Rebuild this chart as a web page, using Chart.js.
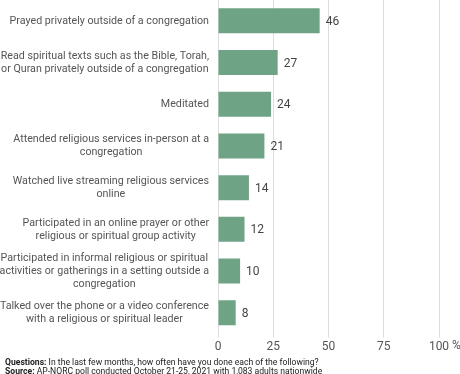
<!DOCTYPE html>
<html>
<head>
<meta charset="utf-8">
<script src="https://cdn.jsdelivr.net/npm/chart.js@4"></script>
<style>
  html, body { margin: 0; padding: 0; background: #fff; }
  #wrap { position: relative; width: 460px; height: 374px; overflow: hidden; }
  #footer { position: absolute; left: 5px; top: 358px; font-family: Roboto, "Liberation Sans", sans-serif; font-size: 8.6px; line-height: 8.8px; color: #222; white-space: nowrap; }
  #footer b { font-weight: 700; }
</style>
</head>
<body>
<div id="wrap">
  <canvas id="c" width="460" height="374"></canvas>
  <div id="footer">
    <div><b>Questions:</b> In the last few months, how often have you done each of the following?</div>
    <div><b>Source:</b> AP-NORC poll conducted October 21-25, 2021 with 1,083 adults nationwide</div>
  </div>
</div>
<script>
const categories = [
  ["Prayed privately outside of a congregation"],
  ["Read spiritual texts such as the Bible, Torah,", "or Quran privately outside of a congregation"],
  ["Meditated"],
  ["Attended religious services in-person at a", "congregation"],
  ["Watched live streaming religious services", "online"],
  ["Participated in an online prayer or other", "religious or spiritual group activity"],
  ["Participated in informal religious or spiritual", "activities or gatherings in a setting outside a", "congregation"],
  ["Talked over the phone or a video conference", "with a religious or spiritual leader"]
];
const values = [46, 27, 24, 21, 14, 12, 10, 8];
const xTicks = [0, 25, 50, 75, 100];
const unitSuffix = "%";

const FONT = 'Roboto, "Liberation Sans", sans-serif';

const valueLabels = {
  id: 'valueLabels',
  afterDatasetsDraw(chart) {
    const ctx = chart.ctx;
    const meta = chart.getDatasetMeta(0);
    ctx.save();
    ctx.font = '12px ' + FONT;
    ctx.fillStyle = '#444';
    ctx.textAlign = 'left';
    ctx.textBaseline = 'middle';
    meta.data.forEach((bar, i) => {
      ctx.fillText(String(values[i]), bar.x + 6, bar.y + 1);
    });
    ctx.restore();
  }
};

const categoryLabels = {
  id: 'categoryLabels',
  afterDraw(chart) {
    const ctx = chart.ctx;
    const yScale = chart.scales.y;
    const right = chart.chartArea.left - 9;
    const lh = 13;
    ctx.save();
    ctx.font = '10.7px ' + FONT;
    ctx.fillStyle = '#555';
    ctx.textAlign = 'center';
    ctx.textBaseline = 'middle';
    categories.forEach((lines, i) => {
      const y = yScale.getPixelForTick(i);
      const w = Math.max(...lines.map(l => ctx.measureText(l).width));
      const cx = right - w / 2;
      const y0 = y - (lines.length - 1) * lh / 2;
      lines.forEach((l, j) => ctx.fillText(l, cx, y0 + j * lh));
    });
    // unit suffix after the last x tick label
    const xs = chart.scales.x;
    ctx.font = '12px ' + FONT;
    ctx.fillStyle = '#555';
    ctx.textAlign = 'left';
    ctx.textBaseline = 'top';
    const lastVal = xTicks[xTicks.length - 1];
    const px = xs.getPixelForValue(lastVal);
    const tw = ctx.measureText(String(lastVal)).width;
    ctx.fillText(unitSuffix, px + tw / 2 + 3, xs.top + 6);
    ctx.restore();
  }
};

new Chart(document.getElementById('c'), {
  type: 'bar',
  data: {
    labels: categories,
    datasets: [{
      data: values,
      backgroundColor: '#6fa386',
      borderWidth: 0,
      barPercentage: 0.6,
      categoryPercentage: 1.0
    }]
  },
  options: {
    indexAxis: 'y',
    responsive: false,
    animation: false,
    devicePixelRatio: 1,
    layout: { padding: { top: 0, right: 21, bottom: 18, left: 0 } },
    plugins: { legend: { display: false }, tooltip: { enabled: false } },
    scales: {
      x: {
        min: 0, max: 100,
        afterBuildTicks(scale) { scale.ticks = xTicks.map(v => ({ value: v })); },
        grid: { color: '#dddddd', lineWidth: 1, drawTicks: true, tickLength: 4 },
        border: { display: false },
        ticks: {
          color: '#555',
          font: { family: FONT, size: 12 },
          padding: 2,
          maxRotation: 0
        }
      },
      y: {
        afterFit(scale) { scale.width = 218; },
        grid: { display: false },
        border: { display: true, color: '#dddddd' },
        ticks: { display: false, autoSkip: false }
      }
    }
  },
  plugins: [valueLabels, categoryLabels]
});
</script>
</body>
</html>
